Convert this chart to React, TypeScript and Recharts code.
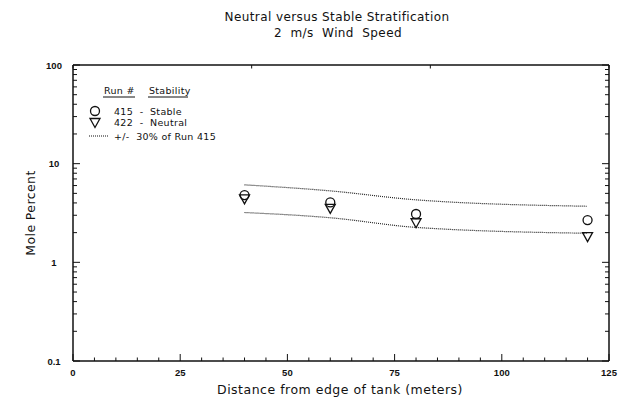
import React from "react";
import { ComposedChart, Line, XAxis, YAxis, Legend } from "recharts";

// distances where the samplers sat (m)
const distance = [40, 60, 80, 120];
const run415 = [4.8, 4.05, 3.09, 2.68];
const run422 = [4.4, 3.52, 2.52, 1.82];
// +/- 30% band around run 415
const bandUpper = [6.1, 5.3, 4.3, 3.7];
const bandLower = [3.2, 2.83, 2.26, 1.97];

const xTicks = [0, 5, 10, 15, 20, 25, 30, 35, 40, 45, 50, 55, 60, 65, 70, 75, 80, 85, 90, 95, 100, 105, 110, 115, 120, 125];
const xMajor = [0, 25, 50, 75, 100, 125];
const topTicks = [0, 1, 2, 3, 4, 5, 6, 7, 8, 9, 10, 11, 12, 13, 14, 15, 16, 17, 18, 19, 20, 21, 22, 23, 24, 25, 26, 27, 28, 29, 30];
const topMajor = [10, 20, 30];
const yTicks = [
  0.1, 0.2, 0.3, 0.4, 0.5, 0.6, 0.7, 0.8, 0.9,
  1, 2, 3, 4, 5, 6, 7, 8, 9,
  10, 20, 30, 40, 50, 60, 70, 80, 90, 100,
];
const yMajor = [0.1, 1, 10, 100];
const legendOrder = ["s415", "s422", "upper"];

const data = distance.map((d, i) => ({
  x: d,
  s415: run415[i],
  s422: run422[i],
  upper: bandUpper[i],
  lower: bandLower[i],
}));

const INK = "#111";
const tickFont = { fontFamily: "'Liberation Sans', Arial, sans-serif", fontSize: 9.5, fontWeight: 700, fill: INK };
const textFont = "'DejaVu Sans', Verdana, sans-serif";

const bottomTick = (p: any) => {
  const v = p.payload.value;
  const major = xMajor.includes(v);
  return (
    <g key={`b-${v}`}>
      <line x1={p.x} y1={p.y} x2={p.x} y2={p.y - (major ? 7 : 3.5)} stroke={INK} strokeWidth={1} />
      {major && (
        <text x={p.x} y={p.y + 15} textAnchor="middle" {...tickFont}>
          {v}
        </text>
      )}
    </g>
  );
};

const topTick = (p: any) => {
  const v = p.payload.value;
  const major = topMajor.includes(v);
  return (
    <line key={`t-${v}`} x1={p.x} y1={p.y} x2={p.x} y2={p.y + (major ? 8 : 3.5)} stroke={INK} strokeWidth={1} />
  );
};

const leftTick = (p: any) => {
  const v = p.payload.value;
  const major = yMajor.includes(v);
  return (
    <g key={`l-${v}`}>
      <line x1={p.x} y1={p.y} x2={p.x + (major ? 7 : 4)} y2={p.y} stroke={INK} strokeWidth={1} />
      {major && (
        <text x={p.x - 19} y={p.y + 3.5} textAnchor="middle" {...tickFont}>
          {String(v)}
        </text>
      )}
    </g>
  );
};

const rightTick = (p: any) => {
  const v = p.payload.value;
  const major = yMajor.includes(v);
  return (
    <line key={`r-${v}`} x1={p.x} y1={p.y} x2={p.x - (major ? 7 : 4)} y2={p.y} stroke={INK} strokeWidth={1} />
  );
};

const circleDot = (p: any) => (
  <circle key={`c-${p.index}`} cx={p.cx} cy={p.cy} r={4.5} fill="none" stroke={INK} strokeWidth={1.3} />
);

const triangleDot = (p: any) => (
  <polygon
    key={`tr-${p.index}`}
    points={`${p.cx - 5},${p.cy - 4} ${p.cx + 5},${p.cy - 4} ${p.cx},${p.cy + 5}`}
    fill="none"
    stroke={INK}
    strokeWidth={1.3}
  />
);

const legendFont = { fontFamily: textFont, fontSize: 9.5, fill: INK, letterSpacing: 0.3 };

const LegendBox = (props: any) => {
  const items = (props.payload || [])
    .filter((e: any) => legendOrder.includes(e.dataKey))
    .sort((a: any, b: any) => legendOrder.indexOf(a.dataKey) - legendOrder.indexOf(b.dataKey));
  return (
    <svg width={200} height={62} style={{ display: "block" }}>
      <text x={19} y={13} {...legendFont}>Run  #</text>
      <line x1={18} y1={16} x2={50} y2={16} stroke={INK} strokeWidth={1} />
      <text x={64} y={13} {...legendFont}>Stability</text>
      <line x1={63} y1={16} x2={103} y2={16} stroke={INK} strokeWidth={1} />
      {items.map((e: any, i: number) => {
        const y = [30, 41.5, 55][i];
        let icon: React.ReactNode = null;
        if (e.dataKey === "s415") {
          icon = <circle cx={10} cy={y} r={4.5} fill="none" stroke={INK} strokeWidth={1.3} />;
        } else if (e.dataKey === "s422") {
          icon = <polygon points={`5,${y - 4} 15,${y - 4} 10,${y + 5}`} fill="none" stroke={INK} strokeWidth={1.3} />;
        } else {
          icon = <line x1={4} y1={y} x2={24} y2={y} stroke={INK} strokeWidth={1.2} strokeDasharray="1 1" />;
        }
        return (
          <g key={e.dataKey}>
            {icon}
            <text x={29} y={y + 3.5} {...legendFont} style={{ whiteSpace: "pre" }}>
              {e.value}
            </text>
          </g>
        );
      })}
    </svg>
  );
};

export default function App() {
  return (
    <div style={{ position: "absolute", left: 0, top: 0, width: 623, height: 415, background: "#fff" }}>
      <ComposedChart
        width={623}
        height={415}
        data={data}
        margin={{ top: 64, right: 13, bottom: 24, left: 33 }}
      >
        <XAxis
          xAxisId="b"
          dataKey="x"
          type="number"
          domain={[0, 125]}
          ticks={xTicks}
          interval={0}
          tickSize={0}
          tickMargin={0}
          tickLine={false}
          tick={bottomTick}
          axisLine={{ stroke: INK, strokeWidth: 1.5 }}
          height={30}
        />
        <XAxis
          xAxisId="t"
          orientation="top"
          type="number"
          domain={[0, 30.4]}
          allowDataOverflow
          ticks={topTicks}
          interval={0}
          tickSize={0}
          tickMargin={0}
          tickLine={false}
          tick={topTick}
          axisLine={{ stroke: INK, strokeWidth: 1.5 }}
          height={1}
        />
        <YAxis
          yAxisId="l"
          type="number"
          scale="log"
          domain={[0.1, 100]}
          allowDataOverflow
          ticks={yTicks}
          interval={0}
          tickSize={0}
          tickMargin={0}
          tickLine={false}
          tick={leftTick}
          axisLine={{ stroke: INK, strokeWidth: 1.5 }}
          width={40}
        />
        <YAxis
          yAxisId="r"
          orientation="right"
          type="number"
          scale="log"
          domain={[0.1, 100]}
          allowDataOverflow
          ticks={yTicks}
          interval={0}
          tickSize={0}
          tickMargin={0}
          tickLine={false}
          tick={rightTick}
          axisLine={{ stroke: INK, strokeWidth: 1.5 }}
          width={1}
        />
        <Legend
          layout="horizontal"
          verticalAlign="middle"
          align="center"
          content={<LegendBox />}
          wrapperStyle={{ left: 85, top: 81, width: 200, height: 62 }}
        />
        <Line
          xAxisId="b"
          yAxisId="l"
          dataKey="s415"
          name="415  -  Stable"
          stroke="none"
          dot={circleDot}
          activeDot={false}
          isAnimationActive={false}
        />
        <Line
          xAxisId="b"
          yAxisId="l"
          dataKey="s422"
          name="422  -  Neutral"
          stroke="none"
          dot={triangleDot}
          activeDot={false}
          isAnimationActive={false}
        />
        <Line
          xAxisId="b"
          yAxisId="l"
          dataKey="upper"
          name="+/-  30% of Run 415"
          type="monotone"
          stroke="#222"
          strokeWidth={1.2}
          strokeDasharray="1 1"
          dot={false}
          activeDot={false}
          isAnimationActive={false}
        />
        <Line
          xAxisId="b"
          yAxisId="l"
          dataKey="lower"
          legendType="none"
          type="monotone"
          stroke="#222"
          strokeWidth={1.2}
          strokeDasharray="1 1"
          dot={false}
          activeDot={false}
          isAnimationActive={false}
        />
      </ComposedChart>
      <svg
        width={623}
        height={415}
        style={{ position: "absolute", left: 0, top: 0, pointerEvents: "none" }}
        fontFamily={textFont}
        fill={INK}
      >
        <text x={337} y={21} textAnchor="middle" fontSize={12} letterSpacing={0.4}>
          Neutral versus Stable Stratification
        </text>
        <text x={338} y={37} textAnchor="middle" fontSize={12} letterSpacing={0.4} style={{ whiteSpace: "pre" }}>
          2  m/s  Wind  Speed
        </text>
        <text x={340} y={394} textAnchor="middle" fontSize={12.5} letterSpacing={0.5}>
          Distance from edge of tank (meters)
        </text>
        <text
          x={35}
          y={213}
          textAnchor="middle"
          fontSize={12.5}
          letterSpacing={0.4}
          transform="rotate(-90 35 213)"
        >
          Mole Percent
        </text>
      </svg>
    </div>
  );
}
